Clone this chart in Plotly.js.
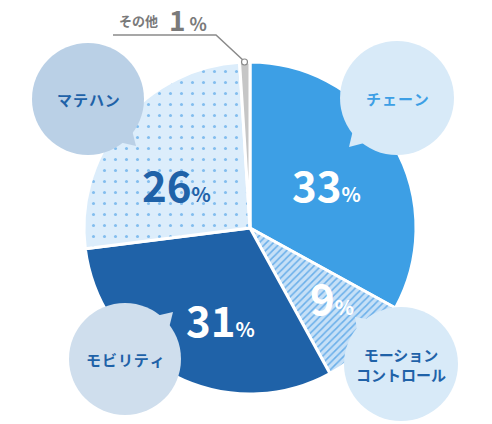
<!DOCTYPE html>
<html>
<head>
<meta charset="utf-8">
<script src="https://cdn.plot.ly/plotly-3.0.1.min.js"></script>
<style>html,body{margin:0;padding:0;background:#fff;}#chart{width:492px;height:424px;}</style>
</head>
<body>
<div id="chart"></div>
<script>
// ---- data ----
const categories = ['チェーン', 'モーションコントロール', 'モビリティ', 'マテハン', 'その他'];
const shares = [33, 9, 31, 26, 1];
const bubbleLabels = ['チ\u200aェ\u200aー\u200aン', 'モーション<br>コントロール', 'モ\u200aビ\u200aリ\u200aテ\u200aィ', 'マ\u200aテ\u200aハ\u200aン'];

// ---- styles ----
const sliceColors = ['#3d9fe5', '#c6e0f7', '#1f62a8', '#dcedfb', '#c6c6c6'];
const patternShapes = ['', '/', '', '.', ''];
const patternFg = ['#3d9fe5', '#6aafea', '#1f62a8', '#82bdee', '#c6c6c6'];
const patternSize = [8, 5, 8, 11, 8];
const patternSolidity = [0.3, 0.3, 0.3, 0.06, 0.3];
const pctColors = ['#ffffff', '#ffffff', '#ffffff', '#1f62a8'];
const pctPos = [[326, 183], [332, 296], [220, 318], [176, 183]];
const bubbles = [
  {cx: 397, cy: 98, r: 57, tip: [349, 147], fill: '#d8eaf8', color: '#3d9fe5'},
  {cx: 401, cy: 364, r: 57, tip: [355, 317], fill: '#d8eaf8', color: '#1f62a8'},
  {cx: 125, cy: 359, r: 56, tip: [173, 312], fill: '#cfdeed', color: '#1f62a8'},
  {cx: 88, cy: 99, r: 56, tip: [136, 146], fill: '#bad0e6', color: '#1f62a8'}
];
const W = 492, H = 424, PCX = 250, PCY = 228, PR = 166;
const FONT = '"Noto Sans CJK JP", "Noto Sans", sans-serif';

const pie = {
  type: 'pie',
  labels: categories,
  values: shares,
  sort: false,
  direction: 'clockwise',
  rotation: 0,
  textinfo: 'none',
  hoverinfo: 'label+percent',
  showlegend: false,
  domain: {x: [(PCX - PR) / W, (PCX + PR) / W], y: [(H - PCY - PR) / H, (H - PCY + PR) / H]},
  marker: {
    colors: sliceColors,
    line: {color: '#ffffff', width: 3},
    pattern: {shape: patternShapes, fgcolor: patternFg, bgcolor: sliceColors, size: patternSize, solidity: patternSolidity}
  }
};

const shapes = [];
const annotations = [];
bubbles.forEach((b, i) => {
  const ang = Math.atan2(b.tip[1] - b.cy, b.tip[0] - b.cx);
  const d = 0.22, rr = b.r * 0.9;
  const p1 = [b.cx + rr * Math.cos(ang - d), b.cy + rr * Math.sin(ang - d)];
  const p2 = [b.cx + rr * Math.cos(ang + d), b.cy + rr * Math.sin(ang + d)];
  shapes.push({type: 'path', xref: 'x', yref: 'y', layer: 'above',
    path: `M${p1[0]},${p1[1]} L${b.tip[0]},${b.tip[1]} L${p2[0]},${p2[1]} Z`,
    fillcolor: b.fill, line: {width: 0}});
  shapes.push({type: 'circle', xref: 'x', yref: 'y', layer: 'above',
    x0: b.cx - b.r, x1: b.cx + b.r, y0: b.cy - b.r, y1: b.cy + b.r,
    fillcolor: b.fill, line: {width: 0}});
  annotations.push({xref: 'x', yref: 'y', x: b.cx, y: b.cy, text: bubbleLabels[i], showarrow: false,
    font: {family: FONT, size: 15, color: b.color, weight: 700}, align: 'center'});
});

// percentage labels from data
for (let i = 0; i < 4; i++) {
  annotations.push({xref: 'x', yref: 'y', x: pctPos[i][0], y: pctPos[i][1], showarrow: false,
    text: shares[i] + '<span style="font-size:20px">%</span>',
    font: {family: FONT, size: 42, color: pctColors[i], weight: 700}});
}

// その他 leader
shapes.push({type: 'path', xref: 'x', yref: 'y', layer: 'above',
  path: 'M113,35 L216,35 L244,61', line: {color: '#8a8a8a', width: 1.5}});
shapes.push({type: 'circle', xref: 'x', yref: 'y', layer: 'above',
  x0: 241.5, x1: 247.5, y0: 59, y1: 65, fillcolor: '#ffffff', line: {color: '#8a8a8a', width: 1.2}});
annotations.push({xref: 'x', yref: 'y', x: 117, y: 20, xanchor: 'left', yanchor: 'middle', showarrow: false,
  text: categories[4], font: {family: FONT, size: 13, color: '#7a7a7a', weight: 700}});
annotations.push({xref: 'x', yref: 'y', x: 168, y: 19, xanchor: 'left', yanchor: 'middle', showarrow: false,
  borderpad: 0,
  text: shares[4] + '<span style="font-size:18px"> %</span>', font: {family: FONT, size: 28, color: '#7a7a7a', weight: 700}});

const layout = {
  width: W, height: H,
  margin: {l: 0, r: 0, t: 0, b: 0},
  paper_bgcolor: '#ffffff', plot_bgcolor: 'rgba(0,0,0,0)',
  xaxis: {range: [0, W], visible: false, fixedrange: true},
  yaxis: {range: [H, 0], visible: false, fixedrange: true},
  shapes: shapes,
  annotations: annotations,
  showlegend: false
};

Plotly.newPlot('chart', [pie], layout, {displayModeBar: false, staticPlot: true});
</script>
</body>
</html>
